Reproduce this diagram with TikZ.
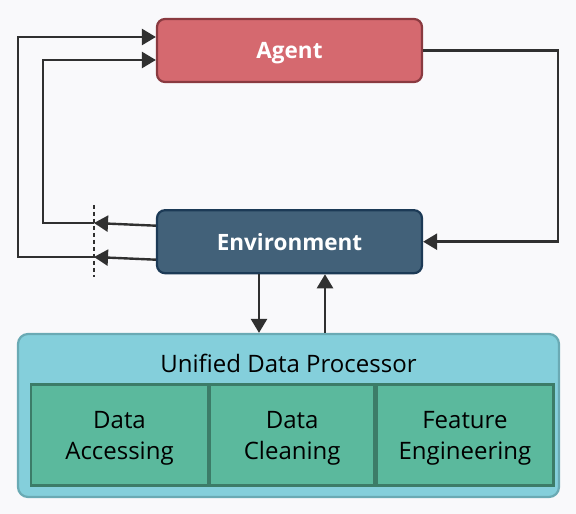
\documentclass[tikz,border=0pt]{standalone}
\usepackage{fontspec}
\setmainfont{Open Sans}
\usepackage{tikz}
\usetikzlibrary{arrows.meta,positioning}
\definecolor{agentfill}{HTML}{D5696F}
\definecolor{agentline}{HTML}{8A3A40}
\definecolor{envfill}{HTML}{426179}
\definecolor{envline}{HTML}{1C3A56}
\definecolor{udpfill}{HTML}{84CFDB}
\definecolor{udpline}{HTML}{6AAAB4}
\definecolor{partfill}{HTML}{5BB99D}
\definecolor{partline}{HTML}{3C7C68}
\definecolor{wire}{HTML}{303030}
\definecolor{paper}{HTML}{F9F9FB}
\tikzset{
	block/.style={rectangle, rounded corners=8pt, draw, line width=2.2pt, minimum width=265pt, minimum height=63pt, text=white, text depth=0pt, font=\fontsize{22.5}{27}\selectfont\bfseries},
	part/.style={rectangle, draw=partline, fill=partfill, line width=2.2pt, minimum height=101pt, align=center, inner sep=0pt, text depth=0pt, font=\fontsize{24}{31}\selectfont},
}

\begin{document}
\begin{tikzpicture}[x=1pt, y=1pt, >={Triangle[length=14pt,width=16pt]}, line width=2.4pt, node distance=2cm]
	\fill [paper] (0,0) rectangle (576,514);
	\useasboundingbox (0,0) rectangle (576,514);
	\node [block, fill=agentfill, draw=agentline] (agent) at (289.5,463.5) {Agent};
	\node [block, fill=envfill, draw=envline] (env) [below=126pt of agent] {Environment};
	\node [rectangle, rounded corners=10pt, draw=udpline, fill=udpfill, line width=2.2pt, minimum width=541pt, minimum height=163pt] (udp) at (288.5,98.5) {};
	\node [font=\fontsize{24}{28}\selectfont, anchor=base] (udptitle) at (288.5,141) {Unified Data Processor};
	\node [part, minimum width=177pt] (access) at (119.5,79) {Data\\Accessing};
	\node [part, minimum width=164pt] (clean) [right=0pt of access] {Data\\Cleaning};
	\node [part, minimum width=177pt] (feature) [right=0pt of clean] {Feature\\Engineering};
	\coordinate (cut) at (94,0);
	\draw [wire, dash pattern=on 4pt off 3pt, line width=2.2pt] (cut |- 0,309) -- (cut |- 0,237);
	\draw [->, wire] ([yshift=-18pt]env.west) -- (cut |- 0,257);
	\draw [->, wire] (cut |- 0,257) -- (18,257) |- ([yshift=13.5pt]agent.west);
	\draw [->, wire] ([yshift=16pt]env.west) -- (cut |- 0,291);
	\draw [->, wire] (cut |- 0,291) -- (43,291) |- ([yshift=-9.5pt]agent.west);
	\draw [->, wire] (agent.east) -- (558,463.5) |- (env.east);
	\draw [->, wire] ([xshift=-30.5pt]env.south) -- ([xshift=-30.5pt]env.south |- udp.north);
	\draw [->, wire] ([xshift=35.5pt]env.south |- udp.north) -- ([xshift=35.5pt]env.south);
\end{tikzpicture}
\end{document}
